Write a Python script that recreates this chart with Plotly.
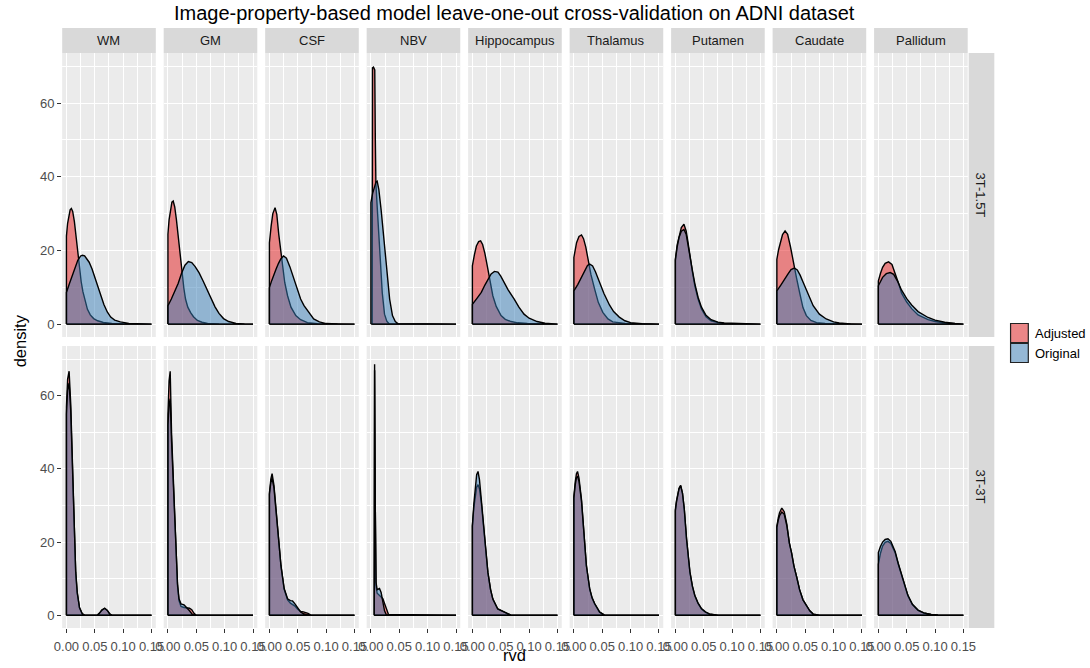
import plotly.graph_objects as go

# ---------------------------------------------------------------------------
# Facets, groups and ticks
# ---------------------------------------------------------------------------
regions = ["WM", "GM", "CSF", "NBV", "Hippocampus", "Thalamus", "Putamen", "Caudate", "Pallidum"]
protocols = ["3T-1.5T", "3T-3T"]
groups = ["Adjusted", "Original"]
x_ticks = [0.0, 0.05, 0.10, 0.15]
x_tick_labels = ["0.00", "0.05", "0.10", "0.15"]
y_ticks = [0, 20, 40, 60]
y_tick_labels = ["0", "20", "40", "60"]

# ---------------------------------------------------------------------------
# Density estimates of rvd (x = rvd, y = density), row 3T-1.5T
# ---------------------------------------------------------------------------
WM_15_ADJ_RVD = [0, 0.002, 0.004, 0.0065, 0.0087, 0.011, 0.014, 0.017, 0.02, 0.023, 0.026, 0.029, 0.033, 0.037, 0.042, 0.048, 0.055, 0.065, 0.08, 0.1, 0.15]
WM_15_ADJ_DEN = [23.9, 27.3, 29.5, 31.0, 31.4, 30.6, 27.8, 23.6, 18.8, 14.8, 11.5, 8.8, 6.0, 4.0, 2.5, 1.5, 0.9, 0.45, 0.2, 0.08, 0]
WM_15_ORI_RVD = [0, 0.005, 0.01, 0.015, 0.02, 0.025, 0.0282, 0.032, 0.036, 0.04, 0.045, 0.05, 0.055, 0.06, 0.066, 0.072, 0.078, 0.085, 0.095, 0.11, 0.13, 0.15]
WM_15_ORI_DEN = [8.6, 10.9, 13.2, 15.5, 17.3, 18.5, 18.7, 18.5, 17.8, 16.8, 15.0, 12.8, 10.5, 8.0, 5.3, 3.3, 1.9, 1.1, 0.6, 0.2, 0.05, 0]

GM_15_ADJ_RVD = [0, 0.002, 0.0045, 0.007, 0.0093, 0.012, 0.015, 0.018, 0.021, 0.0245, 0.028, 0.031, 0.035, 0.04, 0.045, 0.052, 0.06, 0.07, 0.09, 0.15]
GM_15_ADJ_DEN = [24.4, 28.3, 31.5, 33.1, 33.4, 31.8, 28.3, 23.6, 19.0, 14.5, 9.8, 6.8, 4.6, 3.1, 2.0, 1.0, 0.5, 0.2, 0.05, 0]
GM_15_ORI_RVD = [0, 0.006, 0.012, 0.018, 0.024, 0.03, 0.036, 0.042, 0.048, 0.055, 0.062, 0.069, 0.076, 0.083, 0.09, 0.098, 0.107, 0.12, 0.135, 0.15]
GM_15_ORI_DEN = [5.0, 6.8, 8.7, 11.0, 13.8, 16.0, 17.0, 16.7, 15.6, 13.9, 11.7, 9.4, 7.0, 4.7, 2.9, 1.5, 0.7, 0.2, 0.05, 0]

CSF_15_ADJ_RVD = [0, 0.003, 0.006, 0.0099, 0.013, 0.0165, 0.02, 0.023, 0.027, 0.032, 0.038, 0.0465, 0.055, 0.067, 0.085, 0.15]
CSF_15_ADJ_DEN = [22.1, 26.6, 30.0, 31.6, 29.8, 24.3, 19.5, 15.8, 11.3, 7.7, 4.6, 2.3, 1.2, 0.4, 0.1, 0]
CSF_15_ORI_RVD = [0, 0.004, 0.008, 0.0116, 0.016, 0.02, 0.0249, 0.03, 0.036, 0.0436, 0.05, 0.055, 0.061, 0.07, 0.078, 0.088, 0.1, 0.12, 0.15]
CSF_15_ORI_DEN = [9.9, 11.8, 13.6, 14.9, 16.5, 17.7, 18.5, 17.9, 15.6, 12.2, 9.0, 6.8, 5.0, 2.9, 1.4, 0.6, 0.15, 0.02, 0]

NBV_15_ADJ_RVD = [0.0022, 0.0028, 0.0045, 0.0068, 0.0078, 0.0088, 0.011, 0.014, 0.017, 0.02, 0.024, 0.028, 0.032, 0.15]
NBV_15_ADJ_DEN = [58, 69.6, 69.8, 69.0, 50, 38, 32, 25, 16, 8.5, 2.7, 0.8, 0.1, 0]
NBV_15_ORI_RVD = [0, 0.003, 0.006, 0.009, 0.011, 0.014, 0.018, 0.021, 0.024, 0.027, 0.0296, 0.033, 0.038, 0.043, 0.048, 0.15]
NBV_15_ORI_DEN = [33, 35.5, 37.5, 38.6, 38.8, 36.5, 31.0, 26.0, 20.5, 15.5, 11.3, 6.8, 2.3, 0.7, 0.1, 0]

HIP_15_ADJ_RVD = [0, 0.0035, 0.007, 0.011, 0.0145, 0.018, 0.022, 0.0273, 0.032, 0.036, 0.042, 0.0505, 0.058, 0.068, 0.08, 0.097, 0.15]
HIP_15_ADJ_DEN = [15.8, 18.8, 21.2, 22.4, 22.6, 21.6, 19.2, 14.9, 10.8, 7.7, 4.8, 2.3, 1.3, 0.7, 0.35, 0.15, 0]
HIP_15_ORI_RVD = [0, 0.008, 0.0157, 0.022, 0.0273, 0.033, 0.0389, 0.045, 0.05, 0.056, 0.063, 0.0737, 0.082, 0.091, 0.1, 0.114, 0.128, 0.15]
HIP_15_ORI_DEN = [5.4, 7.0, 8.6, 10.6, 12.2, 13.6, 14.3, 14.1, 13.0, 11.3, 9.3, 6.8, 4.6, 2.7, 1.6, 0.7, 0.25, 0]

THA_15_ADJ_RVD = [0, 0.0047, 0.009, 0.0134, 0.017, 0.021, 0.025, 0.03, 0.0366, 0.043, 0.051, 0.06, 0.0685, 0.08, 0.09, 0.15]
THA_15_ADJ_DEN = [18.1, 22.1, 23.8, 24.2, 23.2, 20.9, 17.6, 13.5, 9.5, 5.9, 3.2, 1.4, 0.6, 0.3, 0.2, 0]
THA_15_ORI_RVD = [0, 0.007, 0.0134, 0.019, 0.024, 0.0279, 0.033, 0.038, 0.0453, 0.053, 0.0627, 0.07, 0.08, 0.09, 0.1, 0.12, 0.15]
THA_15_ORI_DEN = [9.0, 10.8, 12.7, 14.6, 15.9, 16.3, 15.8, 14.2, 11.3, 8.3, 5.2, 3.4, 1.9, 0.9, 0.4, 0.1, 0]

PUT_15_ADJ_RVD = [0, 0.0032, 0.0064, 0.0105, 0.0151, 0.019, 0.0225, 0.0256, 0.03, 0.0343, 0.04, 0.046, 0.054, 0.063, 0.075, 0.086, 0.15]
PUT_15_ADJ_DEN = [17.6, 21.5, 23.9, 26.2, 27.1, 25.3, 22.0, 18.5, 14.2, 10.4, 6.8, 4.1, 2.0, 0.9, 0.4, 0.2, 0]
PUT_15_ORI_RVD = [0, 0.0032, 0.0064, 0.0105, 0.0151, 0.019, 0.0225, 0.0256, 0.03, 0.0343, 0.04, 0.046, 0.054, 0.063, 0.075, 0.086, 0.15]
PUT_15_ORI_DEN = [17.3, 21.0, 23.5, 25.2, 25.7, 24.4, 21.6, 18.6, 14.6, 11.0, 7.3, 4.6, 2.4, 1.2, 0.55, 0.3, 0]

CAU_15_ADJ_RVD = [0, 0.003, 0.0058, 0.01, 0.0145, 0.019, 0.024, 0.029, 0.0348, 0.0406, 0.046, 0.052, 0.06, 0.07, 0.085, 0.15]
CAU_15_ADJ_DEN = [17.6, 20.2, 22.1, 24.3, 25.3, 24.4, 21.0, 16.7, 12.4, 8.2, 4.5, 2.3, 1.0, 0.4, 0.15, 0]
CAU_15_ORI_RVD = [0, 0.007, 0.0145, 0.02, 0.025, 0.0308, 0.036, 0.041, 0.0465, 0.055, 0.064, 0.075, 0.087, 0.1, 0.11, 0.13, 0.15]
CAU_15_ORI_DEN = [9.0, 10.6, 12.2, 13.7, 14.8, 15.2, 14.7, 13.3, 11.3, 8.0, 5.0, 2.7, 1.4, 0.6, 0.3, 0.05, 0]

PAL_15_ADJ_RVD = [0, 0.0038, 0.0075, 0.012, 0.018, 0.024, 0.03, 0.036, 0.041, 0.05, 0.0587, 0.07, 0.0876, 0.1, 0.117, 0.135, 0.15]
PAL_15_ADJ_DEN = [11.7, 13.8, 15.4, 16.5, 16.9, 16.2, 13.8, 10.9, 8.4, 6.0, 4.2, 2.5, 1.2, 0.7, 0.3, 0.1, 0]
PAL_15_ORI_RVD = [0, 0.0075, 0.014, 0.021, 0.027, 0.034, 0.041, 0.05, 0.0587, 0.07, 0.0876, 0.1, 0.117, 0.135, 0.15]
PAL_15_ORI_DEN = [10.4, 12.7, 13.7, 14.0, 13.5, 11.6, 9.2, 6.9, 5.2, 3.4, 1.8, 1.1, 0.5, 0.15, 0]

# ---------------------------------------------------------------------------
# Density estimates of rvd, row 3T-3T
# ---------------------------------------------------------------------------
WM_3_ADJ_RVD = [0, 0.002, 0.0047, 0.0075, 0.0105, 0.0134, 0.0163, 0.019, 0.023, 0.0279, 0.032, 0.054, 0.058, 0.0625, 0.0674, 0.072, 0.076, 0.08, 0.15]
WM_3_ADJ_DEN = [57, 64.5, 66.7, 58, 40.7, 22.6, 11.7, 6.0, 2.0, 0.35, 0, 0, 0.5, 1.4, 1.9, 1.3, 0.4, 0, 0]
WM_3_ORI_RVD = [0, 0.002, 0.0047, 0.0075, 0.0105, 0.0134, 0.0163, 0.019, 0.023, 0.0279, 0.032, 0.054, 0.058, 0.0625, 0.0674, 0.072, 0.076, 0.08, 0.15]
WM_3_ORI_DEN = [55, 61.5, 63.5, 56, 40.0, 22.8, 12.0, 6.3, 2.1, 0.4, 0, 0, 0.5, 1.4, 1.9, 1.3, 0.4, 0, 0]

GM_3_ADJ_RVD = [0, 0.002, 0.004, 0.0064, 0.009, 0.011, 0.0139, 0.0169, 0.0195, 0.023, 0.0284, 0.034, 0.038, 0.042, 0.046, 0.05, 0.15]
GM_3_ADJ_DEN = [55, 64, 66.7, 49.7, 38, 31.6, 18.0, 8.0, 4.0, 2.4, 2.1, 2.0, 1.9, 1.5, 0.5, 0, 0]
GM_3_ORI_RVD = [0, 0.002, 0.004, 0.0064, 0.009, 0.011, 0.0139, 0.0169, 0.0195, 0.023, 0.0284, 0.034, 0.038, 0.042, 0.046, 0.05, 0.15]
GM_3_ORI_DEN = [52, 57.5, 59.2, 47.5, 37, 31.0, 18.2, 8.6, 4.5, 3.1, 2.8, 2.0, 1.2, 0.4, 0.05, 0, 0]

CSF_3_ADJ_RVD = [0, 0.0025, 0.0047, 0.008, 0.0116, 0.0157, 0.0203, 0.026, 0.032, 0.037, 0.0407, 0.045, 0.0494, 0.055, 0.06, 0.064, 0.068, 0.073, 0.15]
CSF_3_ADJ_DEN = [33.4, 37.2, 38.7, 35.5, 28.9, 20.7, 13.5, 7.1, 4.2, 3.3, 3.0, 2.5, 1.7, 1.0, 0.9, 0.8, 0.5, 0, 0]
CSF_3_ORI_RVD = [0, 0.0025, 0.0047, 0.008, 0.0116, 0.0157, 0.0203, 0.026, 0.032, 0.037, 0.0407, 0.045, 0.0494, 0.055, 0.06, 0.064, 0.068, 0.073, 0.15]
CSF_3_ORI_DEN = [33.0, 36.3, 37.5, 34.8, 28.6, 20.7, 13.6, 7.3, 4.5, 4.0, 3.9, 3.1, 2.2, 0.9, 0.4, 0.2, 0.05, 0, 0]

NBV_3_ADJ_RVD = [0.0058, 0.0065, 0.0077, 0.009, 0.011, 0.0151, 0.018, 0.021, 0.025, 0.028, 0.031, 0.15]
NBV_3_ADJ_DEN = [40, 68.6, 30, 8, 6, 5.5, 5.0, 4.5, 3.0, 1.5, 0.2, 0]
NBV_3_ORI_RVD = [0.0058, 0.0065, 0.0077, 0.009, 0.011, 0.0151, 0.018, 0.021, 0.024, 0.027, 0.03, 0.15]
NBV_3_ORI_DEN = [40, 67, 30, 9, 7, 7.3, 6.2, 3.5, 1.2, 0.2, 0, 0]

HIP_3_ADJ_RVD = [0, 0.0026, 0.0052, 0.0075, 0.0099, 0.0125, 0.0157, 0.0185, 0.0215, 0.0273, 0.032, 0.036, 0.0447, 0.056, 0.068, 0.15]
HIP_3_ADJ_DEN = [24.4, 29.5, 33.0, 35.0, 35.7, 34.5, 30.8, 26.0, 20.7, 11.7, 7.0, 4.4, 1.7, 0.8, 0, 0]
HIP_3_ORI_RVD = [0, 0.0026, 0.0052, 0.0075, 0.0099, 0.0125, 0.0157, 0.0185, 0.0215, 0.0273, 0.032, 0.036, 0.0447, 0.056, 0.068, 0.15]
HIP_3_ORI_DEN = [24.4, 30.5, 35.0, 38.4, 39.3, 37.0, 31.6, 26.3, 20.7, 11.7, 7.0, 4.4, 1.7, 0.8, 0, 0]

THA_3_ADJ_RVD = [0, 0.0025, 0.0045, 0.0064, 0.009, 0.0134, 0.0174, 0.022, 0.0279, 0.032, 0.0366, 0.041, 0.0453, 0.054, 0.15]
THA_3_ADJ_DEN = [32.5, 36.5, 38.7, 39.3, 37.5, 31.6, 22.6, 13.5, 7.1, 4.7, 3.1, 1.8, 0.8, 0, 0]
THA_3_ORI_RVD = [0, 0.0025, 0.0045, 0.0064, 0.009, 0.0134, 0.0174, 0.022, 0.0279, 0.032, 0.0366, 0.041, 0.0453, 0.054, 0.15]
THA_3_ORI_DEN = [32.0, 35.8, 37.6, 38.0, 36.6, 31.2, 22.5, 13.6, 7.2, 4.8, 3.2, 1.9, 0.9, 0, 0]

PUT_3_ADJ_RVD = [0, 0.002, 0.004, 0.0065, 0.0093, 0.0125, 0.0157, 0.0197, 0.0256, 0.03, 0.0343, 0.04, 0.046, 0.053, 0.06, 0.075, 0.15]
PUT_3_ADJ_DEN = [28.9, 31.3, 33.0, 34.7, 35.5, 33.3, 28.9, 20.7, 11.7, 7.8, 5.3, 3.2, 1.7, 0.8, 0.3, 0, 0]
PUT_3_ORI_RVD = [0, 0.002, 0.004, 0.0065, 0.0093, 0.0125, 0.0157, 0.0197, 0.0256, 0.03, 0.0343, 0.04, 0.046, 0.053, 0.06, 0.075, 0.15]
PUT_3_ORI_DEN = [28.5, 31.0, 32.8, 34.6, 35.4, 33.4, 29.1, 20.9, 11.9, 8.0, 5.4, 3.3, 1.8, 0.9, 0.35, 0, 0]

CAU_3_ADJ_RVD = [0, 0.0025, 0.0047, 0.0087, 0.013, 0.0174, 0.022, 0.026, 0.03, 0.0348, 0.04, 0.046, 0.052, 0.058, 0.064, 0.075, 0.15]
CAU_3_ADJ_DEN = [24.4, 26.6, 28.0, 29.3, 28.3, 25.0, 19.8, 17.0, 13.5, 10.5, 7.0, 4.2, 2.6, 1.2, 0.3, 0, 0]
CAU_3_ORI_RVD = [0, 0.0025, 0.0047, 0.0087, 0.013, 0.0174, 0.022, 0.026, 0.03, 0.0348, 0.04, 0.046, 0.052, 0.058, 0.064, 0.075, 0.15]
CAU_3_ORI_DEN = [24.0, 26.0, 27.2, 28.2, 27.6, 24.6, 19.7, 17.0, 13.5, 10.5, 7.0, 4.2, 2.6, 1.2, 0.3, 0, 0]

PAL_3_ADJ_RVD = [0, 0.0035, 0.0075, 0.012, 0.0169, 0.022, 0.0296, 0.035, 0.041, 0.046, 0.052, 0.06, 0.07, 0.08, 0.093, 0.105, 0.116, 0.15]
PAL_3_ADJ_DEN = [13.9, 16.8, 18.9, 19.9, 20.2, 19.6, 17.1, 14.0, 10.8, 8.0, 5.3, 2.9, 1.3, 0.6, 0.2, 0.05, 0, 0]
PAL_3_ORI_RVD = [0, 0.0035, 0.0075, 0.012, 0.0169, 0.022, 0.0296, 0.035, 0.041, 0.046, 0.052, 0.06, 0.07, 0.08, 0.093, 0.105, 0.116, 0.15]
PAL_3_ORI_DEN = [17.1, 18.7, 20.0, 20.7, 20.9, 20.2, 17.4, 14.2, 11.0, 8.2, 5.5, 3.0, 1.4, 0.65, 0.2, 0.05, 0, 0]

# (protocol, region) -> {group: (rvd, density)}
curves = {
    ("3T-1.5T", "WM"): {"Adjusted": (WM_15_ADJ_RVD, WM_15_ADJ_DEN), "Original": (WM_15_ORI_RVD, WM_15_ORI_DEN)},
    ("3T-1.5T", "GM"): {"Adjusted": (GM_15_ADJ_RVD, GM_15_ADJ_DEN), "Original": (GM_15_ORI_RVD, GM_15_ORI_DEN)},
    ("3T-1.5T", "CSF"): {"Adjusted": (CSF_15_ADJ_RVD, CSF_15_ADJ_DEN), "Original": (CSF_15_ORI_RVD, CSF_15_ORI_DEN)},
    ("3T-1.5T", "NBV"): {"Adjusted": (NBV_15_ADJ_RVD, NBV_15_ADJ_DEN), "Original": (NBV_15_ORI_RVD, NBV_15_ORI_DEN)},
    ("3T-1.5T", "Hippocampus"): {"Adjusted": (HIP_15_ADJ_RVD, HIP_15_ADJ_DEN), "Original": (HIP_15_ORI_RVD, HIP_15_ORI_DEN)},
    ("3T-1.5T", "Thalamus"): {"Adjusted": (THA_15_ADJ_RVD, THA_15_ADJ_DEN), "Original": (THA_15_ORI_RVD, THA_15_ORI_DEN)},
    ("3T-1.5T", "Putamen"): {"Adjusted": (PUT_15_ADJ_RVD, PUT_15_ADJ_DEN), "Original": (PUT_15_ORI_RVD, PUT_15_ORI_DEN)},
    ("3T-1.5T", "Caudate"): {"Adjusted": (CAU_15_ADJ_RVD, CAU_15_ADJ_DEN), "Original": (CAU_15_ORI_RVD, CAU_15_ORI_DEN)},
    ("3T-1.5T", "Pallidum"): {"Adjusted": (PAL_15_ADJ_RVD, PAL_15_ADJ_DEN), "Original": (PAL_15_ORI_RVD, PAL_15_ORI_DEN)},
    ("3T-3T", "WM"): {"Adjusted": (WM_3_ADJ_RVD, WM_3_ADJ_DEN), "Original": (WM_3_ORI_RVD, WM_3_ORI_DEN)},
    ("3T-3T", "GM"): {"Adjusted": (GM_3_ADJ_RVD, GM_3_ADJ_DEN), "Original": (GM_3_ORI_RVD, GM_3_ORI_DEN)},
    ("3T-3T", "CSF"): {"Adjusted": (CSF_3_ADJ_RVD, CSF_3_ADJ_DEN), "Original": (CSF_3_ORI_RVD, CSF_3_ORI_DEN)},
    ("3T-3T", "NBV"): {"Adjusted": (NBV_3_ADJ_RVD, NBV_3_ADJ_DEN), "Original": (NBV_3_ORI_RVD, NBV_3_ORI_DEN)},
    ("3T-3T", "Hippocampus"): {"Adjusted": (HIP_3_ADJ_RVD, HIP_3_ADJ_DEN), "Original": (HIP_3_ORI_RVD, HIP_3_ORI_DEN)},
    ("3T-3T", "Thalamus"): {"Adjusted": (THA_3_ADJ_RVD, THA_3_ADJ_DEN), "Original": (THA_3_ORI_RVD, THA_3_ORI_DEN)},
    ("3T-3T", "Putamen"): {"Adjusted": (PUT_3_ADJ_RVD, PUT_3_ADJ_DEN), "Original": (PUT_3_ORI_RVD, PUT_3_ORI_DEN)},
    ("3T-3T", "Caudate"): {"Adjusted": (CAU_3_ADJ_RVD, CAU_3_ADJ_DEN), "Original": (CAU_3_ORI_RVD, CAU_3_ORI_DEN)},
    ("3T-3T", "Pallidum"): {"Adjusted": (PAL_3_ADJ_RVD, PAL_3_ADJ_DEN), "Original": (PAL_3_ORI_RVD, PAL_3_ORI_DEN)},
}

# ---------------------------------------------------------------------------
# Styling
# ---------------------------------------------------------------------------
W, H = 1090, 668
FONT = "Liberation Sans, Arial, Helvetica, sans-serif"
group_rgb = {"Adjusted": (228, 26, 28), "Original": (55, 126, 184)}
ALPHA = 0.5
PANEL_BG = "#EBEBEB"
STRIP_BG = "#D9D9D9"
X_RANGE = [-0.0075, 0.1575]
Y_RANGE = [-3.5, 73.6]
OUTLINE_W = 1.4

# panel geometry in pixels
PANEL_LEFT0, PANEL_W, PANEL_PITCH = 55, 95, 103
ROW_TOP = [53, 346]
ROW_BOTTOM = [337, 628]
STRIP_TOP = 28
RSTRIP_X0, RSTRIP_X1 = 975, 1001


def px_x(p):
    return p / W


def px_y(p):
    return 1 - p / H


def axis_id(k):
    return "" if k == 0 else str(k + 1)


fig = go.Figure()
layout = {}
shapes = []
annotations = []

for r, prot in enumerate(protocols):
    for c, reg in enumerate(regions):
        k = r * len(regions) + c
        aid = axis_id(k)
        left = PANEL_LEFT0 + c * PANEL_PITCH
        right = left + PANEL_W

        for g in groups:
            xs, ys = curves[(prot, reg)][g]
            # closed polygon: vertical edge at the first value, baseline back at the end
            poly_x = [xs[0]] + list(xs) + [xs[-1], xs[0]]
            poly_y = [0] + list(ys) + [0, 0]
            rr, gg, bb = group_rgb[g]
            fig.add_trace(go.Scatter(
                x=poly_x, y=poly_y,
                xaxis="x" + aid, yaxis="y" + aid,
                mode="lines", fill="toself",
                fillcolor=f"rgba({rr},{gg},{bb},{ALPHA})",
                line=dict(color="black", width=OUTLINE_W),
                hoverinfo="skip", showlegend=False, name=g,
            ))

        layout["xaxis" + aid] = dict(
            domain=[px_x(left), px_x(right)],
            anchor="y" + aid,
            range=X_RANGE,
            tickmode="array", tickvals=x_ticks, ticktext=x_tick_labels,
            showticklabels=(r == 1),
            ticks="outside" if r == 1 else "",
            ticklen=4, tickwidth=1, tickcolor="#333333",
            ticklabelstandoff=2,
            tickfont=dict(size=13, color="#4D4D4D", family=FONT),
            showgrid=True, gridcolor="white", gridwidth=1.1,
            minor=dict(tickmode="array", tickvals=[0.025, 0.075, 0.125],
                       showgrid=True, gridcolor="white", gridwidth=0.55, ticks=""),
            zeroline=False, showline=False, fixedrange=True,
        )
        layout["yaxis" + aid] = dict(
            domain=[px_y(ROW_BOTTOM[r]), px_y(ROW_TOP[r])],
            anchor="x" + aid,
            range=Y_RANGE,
            tickmode="array", tickvals=y_ticks, ticktext=y_tick_labels,
            showticklabels=(c == 0),
            ticks="outside" if c == 0 else "",
            ticklen=4, tickwidth=1, tickcolor="#333333",
            tickfont=dict(size=13, color="#4D4D4D", family=FONT),
            showgrid=True, gridcolor="white", gridwidth=1.1,
            minor=dict(tickmode="array", tickvals=[10, 30, 50, 70],
                       showgrid=True, gridcolor="white", gridwidth=0.55, ticks=""),
            zeroline=False, showline=False, fixedrange=True,
        )

        # column strip on top row
        if r == 0:
            shapes.append(dict(type="rect", xref="paper", yref="paper",
                               x0=px_x(left), x1=px_x(right),
                               y0=px_y(ROW_TOP[0]), y1=px_y(STRIP_TOP),
                               fillcolor=STRIP_BG, line=dict(width=0), layer="below"))
            annotations.append(dict(text=reg, xref="paper", yref="paper",
                                    x=px_x((left + right) / 2), y=px_y((STRIP_TOP + ROW_TOP[0]) / 2),
                                    xanchor="center", yanchor="middle", showarrow=False,
                                    font=dict(size=13, color="#1A1A1A", family=FONT)))

    # row strip on the right
    shapes.append(dict(type="rect", xref="paper", yref="paper",
                       x0=px_x(RSTRIP_X0), x1=px_x(RSTRIP_X1),
                       y0=px_y(ROW_BOTTOM[r]), y1=px_y(ROW_TOP[r]),
                       fillcolor=STRIP_BG, line=dict(width=0), layer="below"))
    annotations.append(dict(text=prot, xref="paper", yref="paper",
                            x=px_x((RSTRIP_X0 + RSTRIP_X1) / 2),
                            y=px_y((ROW_TOP[r] + ROW_BOTTOM[r]) / 2),
                            xanchor="center", yanchor="middle", textangle=90, showarrow=False,
                            font=dict(size=13, color="#1A1A1A", family=FONT)))

# title and axis titles
panels_mid = (PANEL_LEFT0 + PANEL_LEFT0 + 8 * PANEL_PITCH + PANEL_W) / 2
annotations.append(dict(text="Image-property-based model leave-one-out cross-validation on ADNI dataset",
                        xref="paper", yref="paper", x=px_x(panels_mid), y=px_y(13),
                        xanchor="center", yanchor="middle", showarrow=False,
                        font=dict(size=20, color="black", family=FONT)))
annotations.append(dict(text="rvd", xref="paper", yref="paper", x=px_x(panels_mid), y=px_y(655),
                        xanchor="center", yanchor="middle", showarrow=False,
                        font=dict(size=16.5, color="black", family=FONT)))
annotations.append(dict(text="density", xref="paper", yref="paper", x=px_x(12),
                        y=px_y((ROW_TOP[0] + ROW_BOTTOM[1]) / 2),
                        xanchor="center", yanchor="middle", textangle=-90, showarrow=False,
                        font=dict(size=16.5, color="black", family=FONT)))

# legend keys
KEY_X0, KEY_X1 = 1017, 1036
key_tops = [323, 343]
for g, top in zip(groups, key_tops):
    rr, gg, bb = group_rgb[g]
    shapes.append(dict(type="rect", xref="paper", yref="paper",
                       x0=px_x(KEY_X0), x1=px_x(KEY_X1), y0=px_y(top + 20), y1=px_y(top),
                       fillcolor="#F2F2F2", line=dict(width=0)))
    shapes.append(dict(type="rect", xref="paper", yref="paper",
                       x0=px_x(KEY_X0 + 0.5), x1=px_x(KEY_X1 - 0.5), y0=px_y(top + 19.5), y1=px_y(top + 0.5),
                       fillcolor=f"rgba({rr},{gg},{bb},{ALPHA})", line=dict(color="#222222", width=1.2)))
    annotations.append(dict(text=g, xref="paper", yref="paper", x=px_x(KEY_X1 + 4), y=px_y(top + 10),
                            xanchor="left", yanchor="middle", showarrow=False,
                            font=dict(size=13, color="black", family=FONT)))

fig.update_layout(
    width=W, height=H,
    margin=dict(l=0, r=0, t=0, b=0),
    paper_bgcolor="white", plot_bgcolor=PANEL_BG,
    font=dict(family=FONT),
    showlegend=False,
    shapes=shapes, annotations=annotations,
    **layout,
)

fig.write_html("out.html", config={"displayModeBar": False})
